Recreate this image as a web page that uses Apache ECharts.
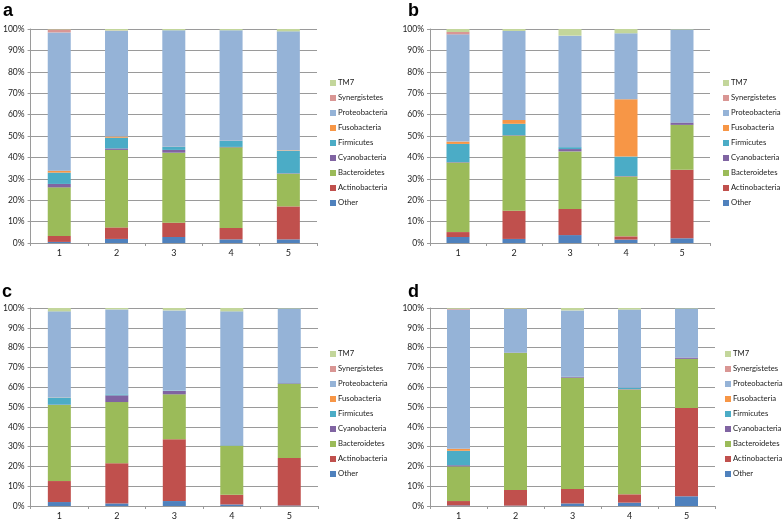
<!DOCTYPE html>
<html>
<head>
<meta charset="utf-8">
<script src="https://cdn.jsdelivr.net/npm/echarts@6/dist/echarts.min.js"></script>
<style>
html,body{margin:0;padding:0;background:#fff;}
#chart{width:784px;height:521px;}
</style>
</head>
<body>
<div id="chart"></div>
<script>
// ---- data ----
const categories = ['1', '2', '3', '4', '5'];
const taxa = ['Other', 'Actinobacteria', 'Bacteroidetes', 'Cyanobacteria', 'Firmicutes', 'Fusobacteria', 'Proteobacteria', 'Synergistetes', 'TM7'];
const yTicks = ['0%', '10%', '20%', '30%', '40%', '50%', '60%', '70%', '80%', '90%', '100%'];

// panel a
const aOther          = [0.5, 1.9, 2.8, 1.7, 1.7];
const aActinobacteria = [2.8, 5.4, 6.7, 5.3, 15.4];
const aBacteroidetes  = [22.7, 36.2, 32.7, 37.7, 15.3];
const aCyanobacteria  = [1.6, 0.7, 1.3, 0.2, 0.2];
const aFirmicutes     = [5.3, 5.0, 1.4, 2.8, 10.5];
const aFusobacteria   = [0.9, 0.6, 0.1, 0.1, 0.2];
const aProteobacteria = [64.6, 49.4, 54.4, 51.6, 55.6];
const aSynergistetes  = [1.4, 0.1, 0, 0, 0];
const aTM7            = [0.2, 0.7, 0.6, 0.6, 1.1];

// panel b
const bOther          = [2.8, 1.9, 3.7, 1.6, 2.2];
const bActinobacteria = [2.3, 13.2, 12.2, 1.5, 32.0];
const bBacteroidetes  = [32.5, 35.1, 26.9, 28.0, 21.0];
const bCyanobacteria  = [0.2, 0.2, 1.1, 0.2, 1.1];
const bFirmicutes     = [8.5, 5.3, 0.9, 9.1, 0.1];
const bFusobacteria   = [1.1, 1.8, 0, 26.8, 0];
const bProteobacteria = [50.1, 41.6, 52.1, 30.8, 43.4];
const bSynergistetes  = [1.1, 0, 0, 0, 0];
const bTM7            = [1.4, 0.9, 3.1, 2.0, 0.2];

// panel c
const cOther          = [2.0, 1.3, 2.5, 0.8, 0.3];
const cActinobacteria = [10.6, 20.3, 31.2, 4.9, 23.9];
const cBacteroidetes  = [38.4, 30.9, 22.7, 24.7, 37.5];
const cCyanobacteria  = [0.2, 3.4, 1.7, 0.2, 0.3];
const cFirmicutes     = [3.5, 0.5, 0.2, 0.2, 0.1];
const cFusobacteria   = [0.1, 0, 0, 0, 0];
const cProteobacteria = [43.5, 42.9, 40.5, 67.5, 37.7];
const cSynergistetes  = [0, 0, 0, 0, 0];
const cTM7            = [1.7, 0.7, 1.2, 1.7, 0.2];

// panel d
const dOther          = [0.3, 0.2, 1.3, 1.7, 4.9];
const dActinobacteria = [2.2, 7.9, 7.3, 4.2, 44.6];
const dBacteroidetes  = [17.5, 69.2, 56.2, 53.0, 24.8];
const dCyanobacteria  = [0.6, 0.2, 0.4, 0.2, 0.7];
const dFirmicutes     = [7.3, 0.1, 0.1, 0.6, 0];
const dFusobacteria   = [1.0, 0, 0, 0, 0];
const dProteobacteria = [70.3, 21.9, 33.5, 39.5, 24.8];
const dSynergistetes  = [0.4, 0.2, 0, 0, 0];
const dTM7            = [0.4, 0.3, 1.2, 0.8, 0.2];

const panelData = [
  [aOther, aActinobacteria, aBacteroidetes, aCyanobacteria, aFirmicutes, aFusobacteria, aProteobacteria, aSynergistetes, aTM7],
  [bOther, bActinobacteria, bBacteroidetes, bCyanobacteria, bFirmicutes, bFusobacteria, bProteobacteria, bSynergistetes, bTM7],
  [cOther, cActinobacteria, cBacteroidetes, cCyanobacteria, cFirmicutes, cFusobacteria, cProteobacteria, cSynergistetes, cTM7],
  [dOther, dActinobacteria, dBacteroidetes, dCyanobacteria, dFirmicutes, dFusobacteria, dProteobacteria, dSynergistetes, dTM7]
];
const panelLabels = ['a', 'b', 'c', 'd'];

// ---- styling / layout ----
const colors = ['#4F81BD', '#C0504D', '#9BBB59', '#8064A2', '#4BACC6', '#F79646', '#95B3D7', '#D99694', '#C3D69B'];
const grids = [
  {left: 24, top: 29, width: 293, height: 214},
  {left: 430, top: 29, width: 280, height: 214},
  {left: 26, top: 308, width: 292, height: 199},
  {left: 430, top: 308, width: 285, height: 199}
];
const legendPos = [
  {left: 330, top: 79},
  {left: 723, top: 79},
  {left: 330, top: 350},
  {left: 725, top: 350}
];
const titlePos = [
  {left: 3, top: 2},
  {left: 408, top: 2},
  {left: 2, top: 283},
  {left: 408, top: 283}
];
const FONT = 'Lato';
const gridColor = '#9a9a9a';

const option = {
  animation: false,
  backgroundColor: '#fff',
  color: colors,
  title: panelLabels.map((t, i) => ({
    text: t, left: titlePos[i].left, top: titlePos[i].top, padding: 0,
    textStyle: {fontFamily: 'Liberation Sans', fontWeight: 'bold', fontSize: 18, color: '#000'}
  })),
  grid: grids.map(g => Object.assign({containLabel: false}, g)),
  legend: grids.map((g, i) => ({
    orient: 'vertical',
    left: legendPos[i].left,
    top: legendPos[i].top,
    data: taxa.slice().reverse(),
    icon: 'rect',
    itemWidth: 6,
    itemHeight: 6,
    itemGap: 7,
    padding: 0,
    selectedMode: false,
    textStyle: {fontFamily: FONT, fontSize: 7.7, color: '#222', padding: [0, 0, 0, -3]}
  })),
  xAxis: grids.map((g, i) => ({
    type: 'category',
    gridIndex: i,
    data: categories,
    axisLine: {lineStyle: {color: gridColor, width: 1}},
    axisTick: {show: true, length: 3, lineStyle: {color: gridColor}},
    axisLabel: {fontFamily: FONT, fontSize: 9, color: '#222', margin: 6},
    splitLine: {show: false}
  })),
  yAxis: grids.map((g, i) => ({
    type: 'value',
    gridIndex: i,
    min: 0, max: 100, interval: 10,
    axisLine: {show: true, lineStyle: {color: gridColor, width: 1}},
    axisTick: {show: true, length: 3, lineStyle: {color: gridColor}},
    axisLabel: {fontFamily: FONT, fontSize: 8.5, color: '#222', margin: 6,
      formatter: v => yTicks[Math.round(v / 10)]},
    splitLine: {show: true, lineStyle: {color: gridColor, width: 1}}
  })),
  series: []
};

panelData.forEach((arrs, p) => {
  arrs.forEach((vals, s) => {
    option.series.push({
      type: 'bar',
      name: taxa[s],
      xAxisIndex: p,
      yAxisIndex: p,
      stack: 'panel' + p,
      barWidth: 23,
      data: vals,
      itemStyle: {color: colors[s]},
      emphasis: {disabled: true}
    });
  });
});

const chart = echarts.init(document.getElementById('chart'), null, {renderer: 'canvas'});
chart.setOption(option);
</script>
</body>
</html>
